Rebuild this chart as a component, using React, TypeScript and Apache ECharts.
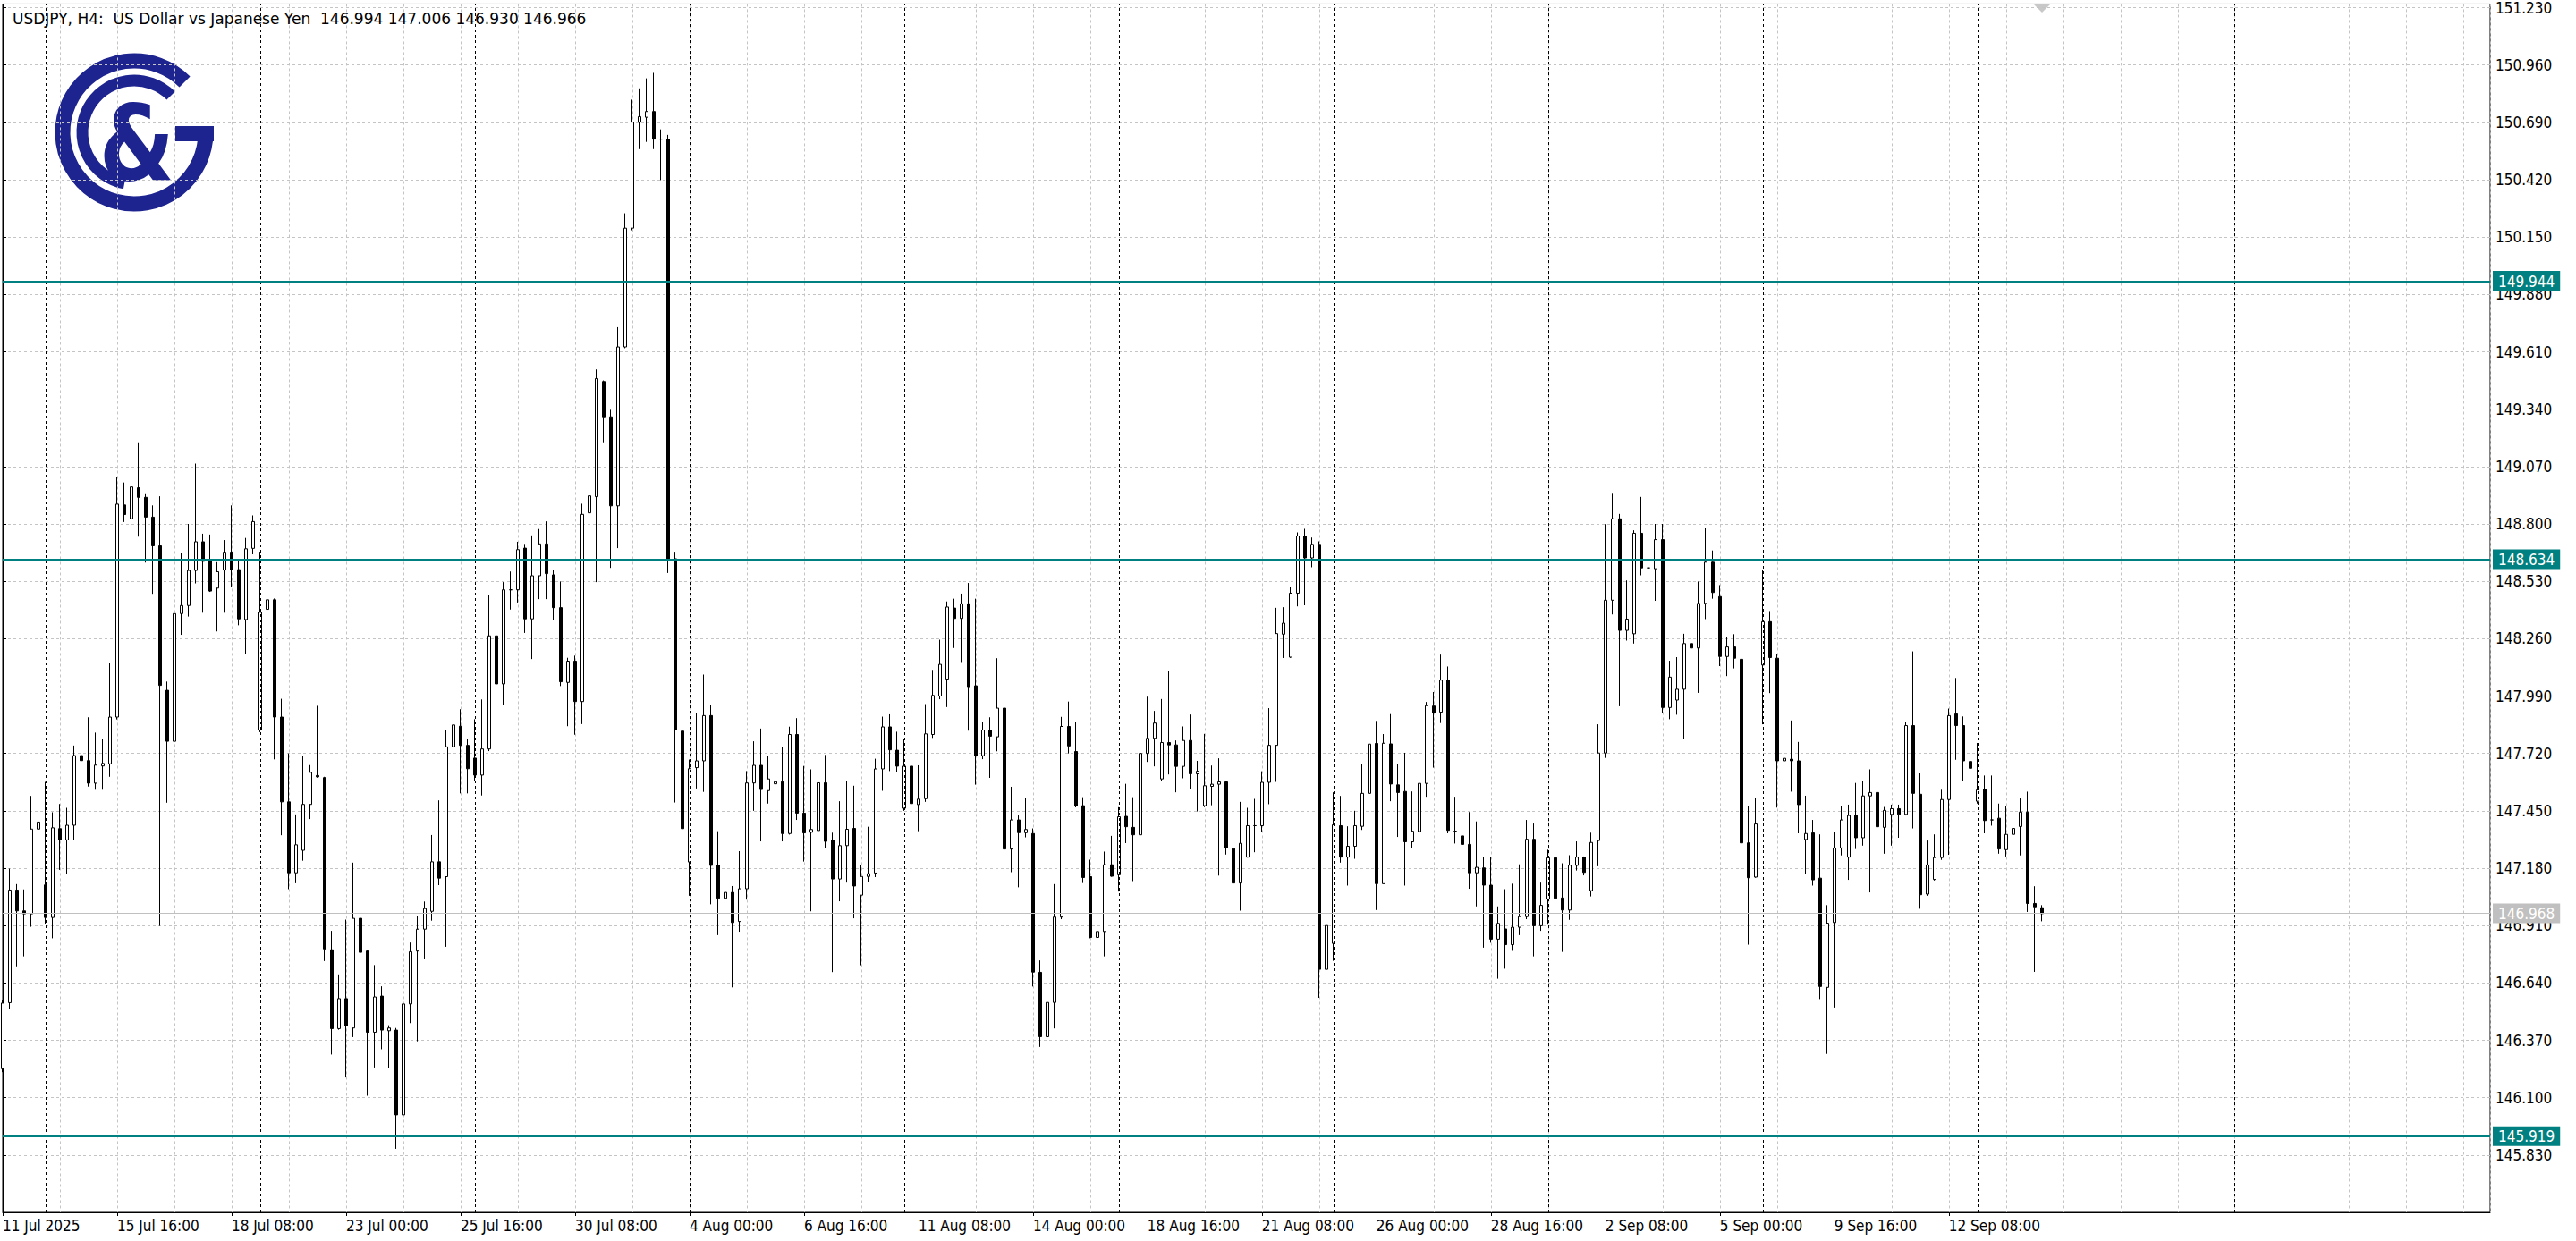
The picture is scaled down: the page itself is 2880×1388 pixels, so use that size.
import React, { useEffect, useRef } from 'react';
import * as echarts from 'echarts';

// ---- candle data (H4 bars from 11 Jul 2025 00:00) ----
const OPEN = [
  146.236, 146.547, 147.077, 146.979, 146.965, 147.364, 147.101, 146.948, 147.366, 147.313,
  147.382, 147.71, 147.686, 147.58, 147.661, 147.671, 147.891, 148.889, 148.824, 148.97,
  148.925, 148.832, 148.697, 148.017, 147.777, 148.378, 148.416, 148.581, 148.716, 148.624,
  148.498, 148.583, 148.667, 148.585, 148.35, 148.685, 147.83, 148.398, 148.443, 147.891,
  147.492, 147.158, 147.264, 147.48, 147.616, 147.606, 146.796, 146.425, 146.566, 146.428,
  146.944, 146.79, 146.408, 146.578, 146.415, 146.418, 146.019, 146.541, 146.79, 146.893,
  146.977, 147.21, 147.14, 147.751, 147.848, 147.758, 147.698, 147.618, 147.741, 148.273,
  148.047, 148.49, 148.49, 148.686, 148.353, 148.556, 148.706, 148.56, 148.406, 148.054,
  148.154, 147.964, 148.852, 148.928, 149.47, 149.304, 148.885, 149.633, 150.192, 150.691,
  150.714, 150.741, 150.611, 150.611, 148.636, 147.825, 147.209, 147.653, 147.685, 147.898,
  147.193, 147.038, 147.066, 146.929, 147.083, 147.581, 147.664, 147.545, 147.577, 147.587,
  147.343, 147.809, 147.439, 147.349, 147.357, 147.582, 147.311, 147.129, 147.286, 147.367,
  147.053, 147.141, 147.157, 147.647, 147.845, 147.735, 147.462, 147.66, 147.479, 147.507,
  147.809, 147.99, 148.07, 148.404, 148.355, 148.424, 148.038, 147.709, 147.83, 147.798,
  147.933, 147.27, 147.407, 147.347, 147.343, 146.69, 146.387, 146.548, 146.95, 147.847,
  147.729, 147.474, 147.14, 146.854, 146.882, 147.196, 147.149, 147.424, 147.372, 147.337,
  147.72, 147.791, 147.6, 147.771, 147.76, 147.659, 147.781, 147.624, 147.474, 147.565,
  147.575, 147.586, 147.272, 147.11, 147.232, 147.38, 147.38, 147.584, 147.758, 148.281,
  148.173, 148.474, 148.743, 148.64, 148.704, 146.704, 146.826, 147.38, 147.232, 147.283,
  147.377, 147.532, 147.767, 147.107, 147.765, 147.572, 147.541, 147.304, 147.352, 147.579,
  147.943, 147.914, 148.065, 147.354, 147.332, 147.292, 147.158, 147.181, 147.1, 146.846,
  146.894, 146.82, 146.902, 146.952, 147.316, 146.909, 147.035, 147.229, 147.04, 146.983,
  147.193, 147.232, 147.074, 147.31, 147.722, 148.441, 148.824, 148.299, 148.283, 148.756,
  148.593, 148.589, 148.726, 147.936, 147.971, 148.022, 148.237, 148.216, 148.426, 148.62,
  148.458, 148.176, 148.221, 148.163, 147.299, 147.138, 148.136, 148.34, 148.168, 147.685,
  147.693, 147.685, 147.315, 147.346, 147.133, 146.619, 146.924, 147.275, 147.232, 147.428,
  147.323, 147.52, 147.536, 147.372, 147.433, 147.46, 147.433, 147.851, 147.528, 147.058,
  147.127, 147.23, 147.503, 147.906, 147.851, 147.682, 147.495, 147.552, 147.407, 147.415,
  147.267, 147.339, 147.376, 147.444, 147.014, 146.994,
];
const HIGH = [
  146.56, 147.178, 147.105, 147.08, 147.52, 147.478, 147.586, 147.443, 147.482, 147.464,
  147.757, 147.773, 147.89, 147.818, 147.79, 148.146, 149.021, 148.995, 149.033, 149.184,
  148.944, 148.887, 148.93, 148.058, 148.42, 148.665, 148.8, 149.084, 148.754, 148.75,
  148.62, 148.724, 148.887, 148.632, 148.734, 148.84, 148.669, 148.557, 148.449, 147.977,
  147.72, 147.433, 147.706, 147.665, 147.944, 147.61, 146.885, 146.68, 146.938, 147.206,
  147.216, 146.797, 146.724, 146.624, 146.441, 146.428, 146.568, 146.83, 146.956, 147.023,
  147.336, 147.499, 147.831, 147.944, 147.928, 147.788, 147.881, 147.974, 148.466, 148.446,
  148.526, 148.576, 148.716, 148.706, 148.746, 148.776, 148.812, 148.583, 148.529, 148.17,
  148.18, 148.895, 149.135, 149.527, 149.475, 149.337, 149.726, 150.262, 150.797, 150.85,
  150.897, 150.923, 150.657, 150.631, 148.669, 147.958, 147.691, 147.909, 148.091, 147.949,
  147.354, 147.109, 147.096, 147.26, 147.637, 147.777, 147.837, 147.708, 147.647, 147.75,
  147.846, 147.886, 147.661, 147.645, 147.6, 147.713, 147.347, 147.495, 147.592, 147.568,
  147.193, 147.375, 147.695, 147.893, 147.904, 147.822, 147.79, 147.716, 147.664, 147.952,
  148.113, 148.255, 148.435, 148.448, 148.472, 148.522, 148.448, 147.87, 147.89, 148.168,
  148.007, 147.563, 147.428, 147.51, 147.367, 146.746, 146.635, 147.105, 147.892, 147.964,
  147.868, 147.514, 147.22, 147.276, 147.258, 147.332, 147.467, 147.577, 147.514, 147.791,
  147.987, 147.92, 147.976, 148.108, 147.781, 147.847, 147.903, 147.685, 147.812, 147.663,
  147.697, 147.589, 147.436, 147.492, 147.464, 147.506, 147.636, 147.933, 148.405, 148.408,
  148.504, 148.76, 148.777, 148.736, 148.718, 147.0, 147.537, 147.52, 147.377, 147.45,
  147.668, 147.934, 147.873, 147.811, 147.905, 147.67, 147.723, 147.541, 147.727, 147.962,
  148.009, 148.185, 148.129, 147.516, 147.486, 147.444, 147.4, 147.232, 147.232, 147.0,
  147.081, 147.107, 147.198, 147.407, 147.39, 147.112, 147.267, 147.378, 147.203, 147.241,
  147.306, 147.235, 147.347, 147.857, 148.799, 148.946, 148.847, 148.534, 148.77, 148.927,
  149.139, 148.8, 148.8, 148.156, 148.173, 148.283, 148.417, 148.529, 148.781, 148.675,
  148.512, 148.268, 148.281, 148.256, 147.471, 147.512, 148.583, 148.39, 148.187, 147.886,
  147.875, 147.774, 147.521, 147.407, 147.339, 147.006, 147.352, 147.473, 147.479, 147.581,
  147.592, 147.645, 147.608, 147.468, 147.479, 147.479, 147.87, 148.2, 147.626, 147.31,
  147.339, 147.549, 147.931, 148.075, 147.894, 147.726, 147.769, 147.616, 147.616, 147.484,
  147.473, 147.433, 147.508, 147.54, 147.095, 147.006,
];
const LOW = [
  146.22, 146.517, 146.718, 146.765, 146.904, 147.315, 146.918, 146.85, 147.172, 147.152,
  147.311, 147.671, 147.564, 147.549, 147.549, 147.61, 147.88, 148.809, 148.703, 148.74,
  148.618, 148.471, 146.908, 147.488, 147.732, 148.278, 148.364, 148.52, 148.382, 148.48,
  148.294, 148.382, 148.504, 148.323, 148.186, 148.657, 147.82, 148.335, 147.692, 147.335,
  147.081, 147.109, 147.215, 147.411, 147.606, 146.743, 146.303, 146.42, 146.195, 146.385,
  146.594, 146.109, 146.242, 146.328, 146.239, 145.859, 145.919, 146.451, 146.365, 146.751,
  146.933, 147.1, 146.81, 147.612, 147.532, 147.532, 147.592, 147.522, 147.731, 148.041,
  147.947, 148.397, 148.43, 148.287, 148.164, 148.446, 148.446, 148.347, 148.037, 147.848,
  147.808, 147.858, 148.829, 148.526, 149.184, 148.593, 148.686, 149.627, 150.182, 150.564,
  150.598, 150.564, 150.418, 148.569, 147.489, 147.289, 147.05, 147.555, 147.539, 147.01,
  146.865, 146.911, 146.619, 146.881, 147.032, 147.45, 147.306, 147.484, 147.447, 147.306,
  147.338, 147.407, 147.211, 146.977, 147.154, 147.273, 146.691, 147.024, 147.112, 146.944,
  146.723, 147.117, 147.138, 147.544, 147.637, 147.634, 147.45, 147.428, 147.354, 147.492,
  147.793, 147.975, 147.938, 148.216, 148.15, 147.827, 147.573, 147.693, 147.605, 147.73,
  147.196, 147.161, 147.09, 147.325, 146.623, 146.339, 146.217, 146.426, 146.94, 147.72,
  147.466, 147.11, 146.85, 146.736, 146.765, 147.14, 147.07, 147.298, 147.119, 147.279,
  147.68, 147.659, 147.59, 147.621, 147.537, 147.603, 147.554, 147.447, 147.467, 147.476,
  147.145, 147.244, 146.875, 146.98, 147.23, 147.255, 147.349, 147.481, 147.586, 148.169,
  148.17, 148.412, 148.417, 148.596, 146.57, 146.579, 146.744, 147.206, 147.098, 147.224,
  147.36, 147.502, 146.983, 147.107, 147.495, 147.327, 147.098, 147.275, 147.224, 147.516,
  147.653, 147.863, 147.344, 147.296, 147.201, 147.083, 147.0, 146.806, 146.829, 146.66,
  146.707, 146.791, 146.865, 146.94, 146.765, 146.885, 146.914, 146.84, 146.786, 146.937,
  147.169, 147.146, 147.047, 147.189, 147.699, 148.374, 147.942, 148.251, 148.237, 148.558,
  148.491, 148.438, 147.911, 147.881, 147.902, 147.79, 148.117, 148.005, 148.352, 148.448,
  148.131, 148.084, 148.12, 147.178, 146.82, 147.135, 147.857, 148.004, 147.465, 147.656,
  147.54, 147.344, 147.154, 147.098, 146.564, 146.306, 146.524, 147.24, 147.125, 147.27,
  147.286, 147.066, 147.27, 147.248, 147.286, 147.323, 147.428, 147.367, 146.989, 147.05,
  147.122, 147.219, 147.243, 147.69, 147.592, 147.465, 147.484, 147.344, 147.38, 147.248,
  147.235, 147.246, 147.24, 146.974, 146.692, 146.93,
];
const CLOSE = [
  146.545, 147.077, 146.979, 146.965, 147.364, 147.397, 146.948, 147.37, 147.313, 147.382,
  147.71, 147.686, 147.58, 147.665, 147.673, 147.891, 148.893, 148.844, 148.974, 148.925,
  148.832, 148.697, 148.04, 147.777, 148.378, 148.416, 148.581, 148.716, 148.624, 148.484,
  148.575, 148.667, 148.585, 148.353, 148.683, 148.811, 148.384, 148.443, 147.891, 147.492,
  147.158, 147.29, 147.48, 147.631, 147.61, 146.8, 146.425, 146.566, 146.439, 146.944,
  146.784, 146.408, 146.574, 146.418, 146.428, 146.019, 146.541, 146.787, 146.893, 146.99,
  147.21, 147.133, 147.751, 147.854, 147.758, 147.648, 147.618, 147.741, 148.273, 148.047,
  148.49, 148.49, 148.679, 148.353, 148.556, 148.706, 148.566, 148.406, 148.057, 148.154,
  147.964, 148.845, 148.932, 149.484, 149.304, 148.885, 149.633, 150.192, 150.691, 150.717,
  150.741, 150.611, 150.611, 148.636, 147.831, 147.366, 147.648, 147.685, 147.898, 147.193,
  147.038, 147.066, 146.924, 147.083, 147.581, 147.664, 147.55, 147.6, 147.587, 147.343,
  147.809, 147.439, 147.346, 147.362, 147.582, 147.306, 147.129, 147.286, 147.363, 147.096,
  147.141, 147.154, 147.647, 147.845, 147.737, 147.66, 147.66, 147.484, 147.505, 147.812,
  147.993, 148.139, 148.409, 148.355, 148.424, 148.034, 147.709, 147.83, 147.801, 147.933,
  147.27, 147.407, 147.347, 147.362, 146.691, 146.387, 146.548, 146.95, 147.847, 147.755,
  147.474, 147.136, 146.854, 146.882, 147.196, 147.142, 147.422, 147.375, 147.337, 147.72,
  147.791, 147.863, 147.771, 147.76, 147.659, 147.781, 147.624, 147.636, 147.568, 147.575,
  147.586, 147.276, 147.11, 147.297, 147.38, 147.38, 147.584, 147.758, 148.284, 148.333,
  148.474, 148.743, 148.64, 148.704, 146.704, 146.91, 147.384, 147.232, 147.283, 147.38,
  147.532, 147.764, 147.107, 147.768, 147.576, 147.536, 147.304, 147.354, 147.579, 147.945,
  147.911, 148.065, 147.358, 147.354, 147.292, 147.158, 147.184, 147.1, 146.846, 146.92,
  146.82, 146.902, 146.952, 147.316, 146.909, 147.005, 147.229, 147.038, 146.983, 147.194,
  147.232, 147.16, 147.301, 147.722, 148.441, 148.824, 148.299, 148.352, 148.756, 148.593,
  148.593, 148.726, 147.936, 148.079, 148.022, 148.237, 148.216, 148.426, 148.62, 148.477,
  148.176, 148.221, 148.168, 147.299, 147.135, 147.388, 148.34, 148.171, 147.685, 147.697,
  147.685, 147.479, 147.343, 147.125, 146.623, 146.921, 147.275, 147.407, 147.428, 147.323,
  147.52, 147.536, 147.375, 147.452, 147.46, 147.433, 147.851, 147.532, 147.055, 147.195,
  147.23, 147.503, 147.898, 147.851, 147.685, 147.65, 147.548, 147.404, 147.407, 147.27,
  147.339, 147.367, 147.444, 147.014, 146.998, 146.966,
];

// ---- axes / annotations ----
const X_LABELS = [
  '11 Jul 2025', '15 Jul 16:00', '18 Jul 08:00', '23 Jul 00:00', '25 Jul 16:00', '30 Jul 08:00',
  '4 Aug 00:00', '6 Aug 16:00', '11 Aug 08:00', '14 Aug 00:00', '18 Aug 16:00', '21 Aug 08:00',
  '26 Aug 00:00', '28 Aug 16:00', '2 Sep 08:00', '5 Sep 00:00', '9 Sep 16:00', '12 Sep 08:00',
];
const BARS_PER_LABEL = 16;
const BARS_PER_GRID = 8;
const X_SLOTS = 347.66;
const WEEK_SEPARATORS = [6, 36, 66, 96, 126, 156, 186, 216, 246, 276, 312];
const Y_TICKS = [
  145.83, 146.1, 146.37, 146.64, 146.91, 147.18, 147.45, 147.72, 147.99, 148.26, 148.53,
  148.8, 149.07, 149.34, 149.61, 149.88, 150.15, 150.42, 150.69, 150.96, 151.23,
];
const Y_MIN = 145.56;
const Y_MAX = 151.247;
const LEVELS = [149.944, 148.634, 145.919];
const CURRENT_PRICE = 146.968;
const TITLE = 'USDJPY, H4:  US Dollar vs Japanese Yen  146.994 147.006 146.930 146.966';

const FONT = "'DejaVu Sans Condensed', 'Liberation Sans', sans-serif";
const TITLE_FONT = "'DejaVu Sans', sans-serif";
const TEAL = '#008080';
const NAVY = '#1d2490';
const GRID_GRAY = '#c4c4c4';

export default function App() {
  const ref = useRef<HTMLDivElement>(null);
  useEffect(() => {
    document.body.style.margin = '0';
    const chart = echarts.init(ref.current!, null, { renderer: 'svg' });
    const labelIdx = X_LABELS.map((_, k) => k * BARS_PER_LABEL);
    const data = OPEN.map((o, i) => [i, o, CLOSE[i], LOW[i], HIGH[i]]);
    const tagValues = [...LEVELS, CURRENT_PRICE];

    chart.setOption({
      animation: false,
      backgroundColor: '#ffffff',
      title: {
        text: TITLE,
        left: 9,
        top: 7,
        textStyle: { fontFamily: TITLE_FONT, fontSize: 17, fontWeight: 'normal', color: '#000' },
      },
      grid: {
        left: 2.7, right: 96, top: 3, bottom: 32,
        show: true, borderColor: '#000', borderWidth: 1, backgroundColor: 'transparent',
      },
      xAxis: [
        {
          type: 'value', min: 0, max: X_SLOTS, position: 'bottom',
          axisLine: { show: true, lineStyle: { color: '#000', width: 1 } },
          axisTick: { show: true, customValues: labelIdx, length: 4, lineStyle: { color: '#000' } },
          axisLabel: {
            show: true, customValues: labelIdx, align: 'left', margin: 6,
            fontFamily: FONT, fontSize: 17, color: '#000',
            formatter: (v: number) => X_LABELS[Math.round(v / BARS_PER_LABEL)] ?? '',
          },
          splitLine: { show: false },
        },
        {
          type: 'value', min: 0, max: X_SLOTS, interval: BARS_PER_GRID, position: 'top',
          axisLine: { show: false }, axisTick: { show: false }, axisLabel: { show: false },
          splitLine: { show: true, lineStyle: { color: GRID_GRAY, type: [3, 3], width: 1 } },
        },
      ],
      yAxis: [
        {
          type: 'value', min: Y_MIN, max: Y_MAX, position: 'right',
          axisLine: { show: true, lineStyle: { color: '#000', width: 1 } },
          axisTick: { show: true, customValues: Y_TICKS, length: 4, lineStyle: { color: '#000' } },
          axisLabel: {
            show: true, customValues: Y_TICKS, margin: 6,
            fontFamily: FONT, fontSize: 17, color: '#000',
            formatter: (v: number) => v.toFixed(3),
          },
          splitLine: { show: true, lineStyle: { color: GRID_GRAY, type: [3, 3], width: 1 } },
        },
        {
          type: 'value', min: Y_MIN, max: Y_MAX, position: 'right', z: 10,
          axisLine: { show: false }, axisTick: { show: false }, splitLine: { show: false },
          axisLabel: {
            show: true, customValues: tagValues, margin: 3,
            formatter: (v: number) =>
              (Math.abs(v - CURRENT_PRICE) < 1e-6 ? '{g|' : '{t|') + v.toFixed(3) + '}',
            rich: {
              t: {
                backgroundColor: TEAL, color: '#fff', fontFamily: FONT, fontSize: 17,
                padding: [3, 6, 2, 6], lineHeight: 17,
              },
              g: {
                backgroundColor: '#c0c0c0', color: '#fff', fontFamily: FONT, fontSize: 17,
                padding: [3, 6, 2, 6], lineHeight: 17,
              },
            },
          },
        },
      ],
      series: [
        {
          type: 'candlestick',
          xAxisIndex: 0,
          yAxisIndex: 0,
          barWidth: 4,
          data,
          itemStyle: {
            color: '#ffffff', color0: '#000000',
            borderColor: '#000000', borderColor0: '#000000', borderWidth: 1,
          },
          markLine: {
            silent: true,
            symbol: ['none', 'none'],
            label: { show: false },
            data: [
              ...WEEK_SEPARATORS.map((x) => ({
                xAxis: x, lineStyle: { color: '#000', type: [3, 3], width: 1 },
              })),
              { yAxis: CURRENT_PRICE, lineStyle: { color: '#c0c0c0', type: 'solid', width: 1 } },
              ...LEVELS.map((y) => ({ yAxis: y, lineStyle: { color: TEAL, type: 'solid', width: 3 } })),
            ],
          },
        },
      ],
      graphic: [
        {
          type: 'group',
          z: 100,
          children: [
            {
              type: 'arc',
              shape: { cx: 150, cy: 148, r: 80, startAngle: 0, endAngle: Math.PI * 1.75, clockwise: true },
              style: { stroke: NAVY, lineWidth: 17, fill: 'none' },
            },
            {
              type: 'arc',
              shape: { cx: 150, cy: 148, r: 58, startAngle: Math.PI * 0.56, endAngle: Math.PI * 1.75, clockwise: true },
              style: { stroke: NAVY, lineWidth: 13, fill: 'none' },
            },
            { type: 'rect', shape: { x: 196, y: 141, width: 43, height: 17 }, style: { fill: NAVY } },
            {
              type: 'text',
              x: 153,
              y: 160,
              scaleX: 0.82,
              style: {
                text: '&', x: 0, y: 0, fill: NAVY, fontSize: 118, fontWeight: 'bold',
                fontFamily: "'DejaVu Sans', sans-serif", align: 'center', verticalAlign: 'middle',
              },
            },
          ],
        },
        {
          type: 'polygon',
          shape: { points: [[2273, 4], [2293, 4], [2283, 14]] },
          style: { fill: '#c8c8c8' },
        },
      ],
    });
    return () => chart.dispose();
  }, []);
  return <div ref={ref} style={{ width: 2880, height: 1388, background: '#fff' }} />;
}
